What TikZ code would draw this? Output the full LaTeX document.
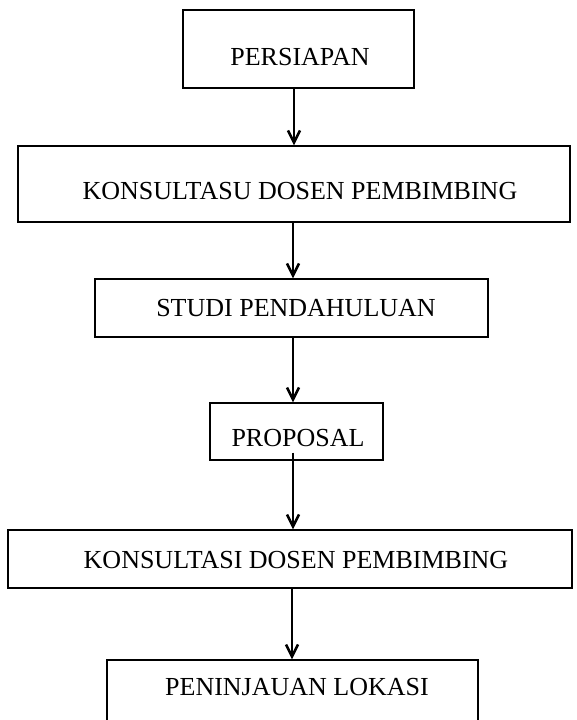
\documentclass[tikz,border=0pt]{standalone}
\usepackage{fontspec}
\setmainfont{Liberation Serif}
\usetikzlibrary{arrows.meta}
\begin{document}
\begin{tikzpicture}[x=1pt,y=-1pt,
  box/.style={draw, line width=1.2pt, inner sep=0pt},
  txt/.style={font=\fontsize{26}{30}\selectfont, inner sep=0pt},
  flow/.style={line width=1.4pt, -{Straight Barb[length=12pt,width=12pt,line width=2.6pt]}}]
\useasboundingbox (0,0) rectangle (576,720);
\clip (0,0) rectangle (576,720);
\fill[white] (0,0) rectangle (576,720);
% boxes
\node[box, minimum width=231pt, minimum height=78pt] (b1) at (298.5,49) {};
\node[box, minimum width=552pt, minimum height=76pt] (b2) at (294,184) {};
\node[box, minimum width=393pt, minimum height=58pt] (b3) at (291.5,308) {};
\node[box, minimum width=173pt, minimum height=57pt] (b4) at (296.5,431.5) {};
\node[box, minimum width=564pt, minimum height=58pt] (b5) at (290,559) {};
\node[box, minimum width=371pt, minimum height=100pt] (b6) at (292.5,710) {};
% texts
\node[txt] (t1) at (300,57) {PERSIAPAN};
\node[txt] (t2) at (300,191) {KONSULTASU DOSEN PEMBIMBING};
\node[txt] (t3) at (296,308) {STUDI PENDAHULUAN};
\node[txt] (t4) at (298,438) {PROPOSAL};
\node[txt] (t5) at (296,560) {KONSULTASI DOSEN PEMBIMBING};
\node[txt] (t6) at (297,687) {PENINJAUAN LOKASI};
% arrows
\draw[flow] (b1.south -| 294,0) -- (b2.north -| 294,0);
\draw[flow] (b2.south -| 293,0) -- (b3.north -| 293,0);
\draw[flow] (b3.south -| 293,0) -- (b4.north -| 293,0);
\draw[flow] ([yshift=8pt]b4.south -| 293,0) -- (b5.north -| 293,0);
\draw[flow] (b5.south -| 292,0) -- (b6.north -| 292,0);
\end{tikzpicture}
\end{document}
